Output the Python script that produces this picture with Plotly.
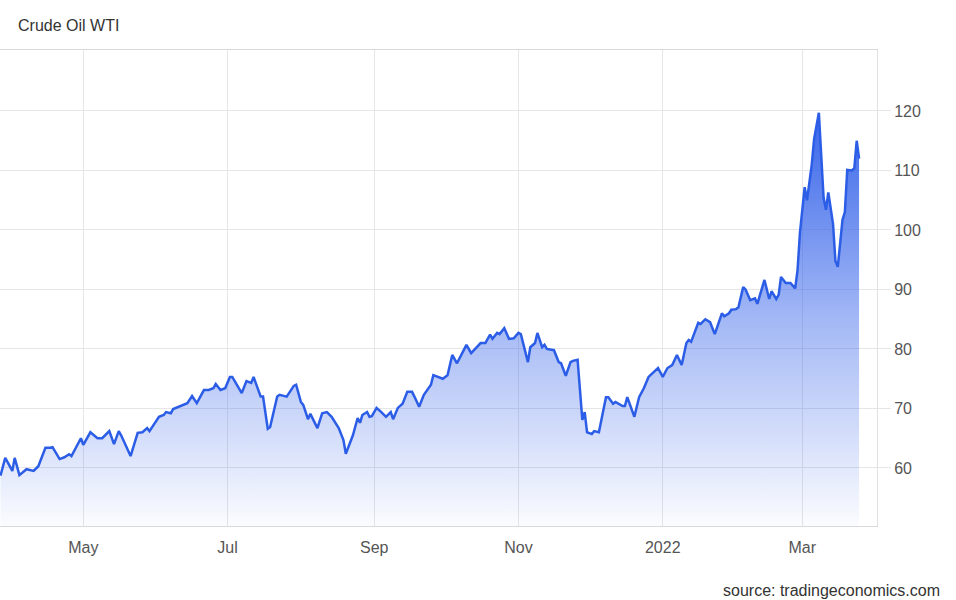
import plotly.graph_objects as go

title_text = "Crude Oil WTI"
source_text = "source: tradingeconomics.com"

dates = [
    "2021-03-27", "2021-03-29", "2021-03-30", "2021-04-01", "2021-04-02", "2021-04-04",
    "2021-04-07", "2021-04-10", "2021-04-12", "2021-04-15", "2021-04-17", "2021-04-18",
    "2021-04-21", "2021-04-23", "2021-04-25", "2021-04-26", "2021-04-30", "2021-05-01",
    "2021-05-04", "2021-05-07", "2021-05-09", "2021-05-12", "2021-05-14", "2021-05-16",
    "2021-05-17", "2021-05-21", "2021-05-24", "2021-05-26", "2021-05-28", "2021-05-29",
    "2021-06-02", "2021-06-04", "2021-06-05", "2021-06-07", "2021-06-08", "2021-06-12",
    "2021-06-14", "2021-06-16", "2021-06-18", "2021-06-21", "2021-06-23", "2021-06-25",
    "2021-06-26", "2021-06-28", "2021-06-30", "2021-07-02", "2021-07-03", "2021-07-07",
    "2021-07-09", "2021-07-11", "2021-07-12", "2021-07-15", "2021-07-16", "2021-07-18",
    "2021-07-19", "2021-07-22", "2021-07-23", "2021-07-26", "2021-07-29", "2021-07-30",
    "2021-08-01", "2021-08-02", "2021-08-04", "2021-08-05", "2021-08-08", "2021-08-10",
    "2021-08-12", "2021-08-14", "2021-08-17", "2021-08-19", "2021-08-20", "2021-08-23",
    "2021-08-25", "2021-08-26", "2021-08-27", "2021-08-29", "2021-08-30", "2021-08-31",
    "2021-09-02", "2021-09-04", "2021-09-06", "2021-09-08", "2021-09-09", "2021-09-11",
    "2021-09-13", "2021-09-15", "2021-09-17", "2021-09-18", "2021-09-20", "2021-09-22",
    "2021-09-25", "2021-09-26", "2021-09-28", "2021-09-30", "2021-10-02", "2021-10-04",
    "2021-10-06", "2021-10-10", "2021-10-12", "2021-10-16", "2021-10-18", "2021-10-20",
    "2021-10-21", "2021-10-23", "2021-10-24", "2021-10-26", "2021-10-28", "2021-10-30",
    "2021-11-01", "2021-11-02", "2021-11-05", "2021-11-06", "2021-11-08", "2021-11-09",
    "2021-11-11", "2021-11-12", "2021-11-13", "2021-11-16", "2021-11-18", "2021-11-19",
    "2021-11-21", "2021-11-23", "2021-11-24", "2021-11-26", "2021-11-28", "2021-11-29",
    "2021-11-30", "2021-12-02", "2021-12-03", "2021-12-05", "2021-12-08", "2021-12-09",
    "2021-12-11", "2021-12-12", "2021-12-15", "2021-12-16", "2021-12-17", "2021-12-20",
    "2021-12-22", "2021-12-24", "2021-12-26", "2021-12-28", "2021-12-30", "2022-01-01",
    "2022-01-03", "2022-01-05", "2022-01-07", "2022-01-09", "2022-01-11", "2022-01-12",
    "2022-01-13", "2022-01-16", "2022-01-17", "2022-01-19", "2022-01-21", "2022-01-23",
    "2022-01-26", "2022-01-27", "2022-01-29", "2022-01-30", "2022-02-01", "2022-02-02",
    "2022-02-04", "2022-02-05", "2022-02-07", "2022-02-09", "2022-02-10", "2022-02-13",
    "2022-02-15", "2022-02-16", "2022-02-18", "2022-02-19", "2022-02-20", "2022-02-22",
    "2022-02-24", "2022-02-26", "2022-02-27", "2022-02-28", "2022-03-02", "2022-03-03",
    "2022-03-05", "2022-03-06", "2022-03-08", "2022-03-10", "2022-03-11", "2022-03-12",
    "2022-03-14", "2022-03-15", "2022-03-16", "2022-03-18", "2022-03-19", "2022-03-20",
    "2022-03-22", "2022-03-23", "2022-03-24", "2022-03-25",
]

prices = [
    58.7, 61.7, 61.0, 59.5, 61.7, 58.8,
    59.8, 59.5, 60.3, 63.4, 63.4, 63.5,
    61.5, 61.8, 62.3, 62.0, 65.0, 63.9,
    66.0, 65.0, 65.0, 66.2, 64.0, 66.2,
    65.5, 62.0, 65.9, 66.0, 66.7, 66.2,
    68.6, 68.9, 69.4, 69.2, 69.9, 70.6,
    70.9, 72.1, 70.9, 73.1, 73.1, 73.4,
    74.1, 73.1, 73.4, 75.3, 75.3, 72.6,
    74.6, 74.3, 75.3, 72.0, 72.0, 66.6,
    66.9, 72.0, 72.3, 72.0, 73.8, 74.0,
    71.1, 70.6, 68.2, 69.1, 66.7, 69.2,
    69.4, 68.6, 66.7, 64.7, 62.4, 65.5,
    68.4, 67.6, 68.9, 69.4, 68.6, 68.7,
    70.1, 69.4, 68.6, 69.4, 68.2, 70.1,
    70.8, 72.8, 72.8, 72.0, 70.3, 72.3,
    74.0, 75.6, 75.3, 75.0, 75.6, 79.0,
    77.6, 80.7, 79.3, 81.0, 81.0, 82.4,
    81.7, 82.7, 82.5, 83.5, 81.7, 81.8,
    82.7, 82.5, 77.8, 80.3, 81.0, 82.7,
    80.3, 80.7, 80.0, 79.8, 77.8, 77.6,
    75.5, 77.8, 78.0, 78.2, 68.1, 69.4,
    66.0, 65.7, 66.2, 66.0, 71.9, 71.9,
    70.8, 71.1, 70.4, 70.4, 71.9, 68.6,
    71.9, 73.4, 75.3, 76.0, 76.8, 75.3,
    76.8, 77.3, 79.0, 77.3, 81.0, 81.5,
    81.2, 84.4, 84.2, 85.0, 84.5, 82.5,
    86.0, 85.5, 86.0, 86.6, 86.7, 87.0,
    90.4, 90.0, 88.2, 88.5, 87.6, 91.6,
    88.4, 89.7, 88.4, 89.1, 92.1, 91.1,
    91.1, 90.2, 93.3, 99.5, 107.2, 105.0,
    111.0, 115.3, 119.7, 105.4, 103.4, 106.3,
    101.0, 94.8, 93.8, 101.7, 103.0, 110.1,
    110.0, 110.4, 115.0, 112.0,
]

x_tick_dates = ["2021-05-01", "2021-07-01", "2021-09-01", "2021-11-01", "2022-01-01", "2022-03-01"]
x_tick_labels = ["May", "Jul", "Sep", "Nov", "2022", "Mar"]
y_tick_values = [60, 70, 80, 90, 100, 110, 120]
y_tick_labels = ["60", "70", "80", "90", "100", "110", "120"]

LINE = "#2c5de6"
GRID = "#e6e6e6"
FONT = "Liberation Sans, Arial, sans-serif"

fig = go.Figure()
fig.add_trace(go.Scatter(
    x=dates, y=prices, mode="lines",
    line=dict(color=LINE, width=2.5),
    fill="tozeroy",
    fillgradient=dict(
        type="vertical", start=50.25, stop=120,
        colorscale=[[0, "rgba(49,96,233,0.02)"], [0.5, "rgba(49,96,233,0.45)"], [1, "rgba(49,96,233,0.97)"]],
    ),
    hoverinfo="skip",
))

fig.update_layout(
    width=956, height=600,
    margin=dict(l=0, r=79, t=50, b=74, autoexpand=False),
    paper_bgcolor="white", plot_bgcolor="white",
    showlegend=False,
    font=dict(family=FONT, size=16, color="#555555"),
    title=dict(text=title_text, x=18 / 956, xanchor="left", xref="container",
               y=1 - 25 / 600, yanchor="middle", yref="container",
               font=dict(family=FONT, size=16, color="#333333")),
    xaxis=dict(
        type="date",
        range=["2021-03-26 19:00", "2022-04-01 14:00"],
        tickvals=x_tick_dates, ticktext=x_tick_labels,
        showgrid=True, gridcolor=GRID, gridwidth=1,
        showline=True, linecolor="#d9d9d9", linewidth=1, mirror=True,
        ticks="", ticklabelstandoff=7,
        tickfont=dict(size=16, color="#555555"),
        zeroline=False,
    ),
    yaxis=dict(
        side="right",
        range=[50.25, 130.25],
        tickvals=y_tick_values, ticktext=y_tick_labels,
        showgrid=True, gridcolor=GRID, gridwidth=1,
        showline=True, linecolor="#e0e0e0", linewidth=1, mirror=True,
        ticks="outside", ticklen=13, tickcolor=GRID,
        tickfont=dict(size=16, color="#555555"),
        zeroline=False,
    ),
    annotations=[dict(
        text=source_text, xref="paper", yref="paper",
        x=942 / 877, y=-(590 - 526) / 476, xanchor="right", yanchor="middle",
        showarrow=False, font=dict(family=FONT, size=16, color="#333333"),
    )],
)

fig.write_html(
    "out.html",
    config={"displayModeBar": False, "staticPlot": True},
    post_script="document.body.style.margin='0';document.body.style.overflow='hidden';",
)
